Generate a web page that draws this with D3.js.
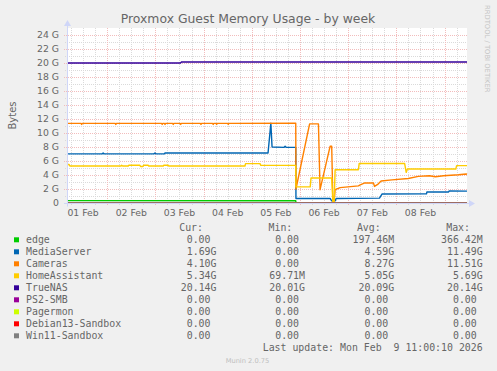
<!DOCTYPE html>
<html>
<head>
<meta charset="utf-8">
<script src="https://cdn.jsdelivr.net/npm/d3@7"></script>
<style>
  body { margin: 0; background: #f0f0f0; }
  svg { display: block; }
  text { font-family: "DejaVu Sans", sans-serif; fill: #666; }
  .mono { font-family: "DejaVu Sans Mono", monospace; white-space: pre; }
</style>
</head>
<body>
<div id="chart"></div>
<script>
// series, in munin draw order
const seriesNames = ["edge", "MediaServer", "Cameras", "HomeAssistant", "TrueNAS",
    "PS2-SMB", "Pagermon", "Debian13-Sandbox", "Win11-Sandbox"];
const seriesColors = ["#00CC00", "#0066B3", "#FF8000", "#FFCC00", "#330099",
    "#990099", "#CCFF00", "#FF0000", "#808080"];

// points: ["day hh:mm" in Feb 2026, GiB]
const edge = [["01 04:00", 0.34], ["05 21:54", 0.33], ["05 22:00", 0], ["09 11:10", 0]];
const mediaServer = [
    ["01 04:00", 7.02], ["01 21:30", 7.02], ["01 22:00", 7.15], ["01 22:30", 7.02],
    ["02 23:18", 7.02], ["02 23:48", 7.15], ["03 00:18", 7.02], ["03 04:30", 7.02],
    ["03 04:48", 7.14], ["05 08:06", 7.14], ["05 09:30", 11.4], ["05 10:06", 8.0],
    ["05 16:06", 7.95], ["05 16:36", 8.1], ["05 17:06", 7.95], ["05 21:54", 7.95],
    ["05 22:00", 0.65], ["06 15:00", 0.65], ["06 15:48", 0.3], ["06 17:30", 0.3],
    ["06 18:00", 0.65], ["07 15:36", 0.7], ["07 16:54", 1.29], ["08 15:00", 1.3],
    ["08 15:12", 1.57], ["09 02:00", 1.57], ["09 02:18", 1.72], ["09 11:10", 1.69]];
const cameras = [
    ["01 04:00", 11.37], ["01 11:00", 11.37], ["01 11:18", 11.22], ["01 11:36", 11.37],
    ["02 04:00", 11.37], ["02 04:18", 11.22], ["02 04:36", 11.37],
    ["03 03:06", 11.37], ["03 03:24", 11.22], ["03 03:42", 11.37],
    ["03 04:30", 11.37], ["03 04:48", 11.22], ["03 05:06", 11.37],
    ["03 08:36", 11.37], ["03 08:54", 11.22], ["03 09:12", 11.37],
    ["03 12:18", 11.37], ["03 12:36", 11.22], ["03 12:54", 11.37],
    ["03 22:24", 11.37], ["03 22:42", 11.22], ["03 23:00", 11.37],
    ["04 04:30", 11.37], ["04 04:48", 11.22], ["04 05:06", 11.37],
    ["04 06:12", 11.37], ["04 06:30", 11.22], ["04 06:48", 11.37],
    ["04 12:00", 11.37], ["04 12:18", 11.22], ["04 12:36", 11.37],
    ["05 21:54", 11.4], ["05 22:00", 2.0], ["06 04:48", 11.3], ["06 09:12", 11.3],
    ["06 10:00", 1.9], ["06 15:00", 8.1], ["06 15:48", 8.1], ["06 16:24", 0.0],
    ["06 17:00", 0.1], ["06 17:30", 1.9], ["06 20:00", 2.2], ["07 05:06", 2.45],
    ["07 06:00", 2.6], ["07 08:00", 2.85], ["07 12:36", 2.85], ["07 13:06", 2.37],
    ["07 14:54", 2.7], ["07 16:24", 3.14], ["07 21:48", 3.3], ["08 05:54", 3.5],
    ["08 10:54", 3.8], ["08 16:24", 3.9], ["08 19:24", 3.75], ["08 23:30", 3.9],
    ["09 06:54", 4.04], ["09 10:48", 4.15], ["09 11:10", 4.10]];
const homeAssistant = [
    ["01 04:00", 5.5], ["01 05:00", 5.5], ["01 05:30", 5.28], ["02 06:54", 5.28],
    ["02 07:12", 5.4], ["02 07:42", 5.28], ["02 10:30", 5.28], ["02 10:48", 5.4],
    ["02 16:18", 5.4], ["02 16:36", 5.22], ["02 17:48", 5.22], ["02 18:06", 5.4],
    ["02 20:24", 5.4], ["02 20:42", 5.28], ["03 03:54", 5.28], ["03 04:12", 5.4],
    ["03 06:24", 5.4], ["03 06:42", 5.28], ["04 20:36", 5.28], ["04 20:54", 5.62],
    ["05 04:06", 5.62], ["05 04:30", 5.38], ["05 21:54", 5.38], ["05 22:00", 2.3],
    ["06 05:06", 2.3], ["06 05:30", 3.57], ["06 15:48", 3.57], ["06 16:24", 0.07],
    ["06 17:00", 0.07], ["06 17:30", 4.76], ["07 05:06", 4.76], ["07 05:30", 5.65],
    ["08 04:06", 5.65], ["08 04:54", 4.37], ["08 05:30", 4.86], ["09 05:36", 4.86],
    ["09 06:00", 5.34], ["09 11:10", 5.34]];
const trueNAS = [["01 04:00", 20.01], ["03 12:36", 20.01], ["03 12:54", 20.14], ["09 11:10", 20.14]];
const ps2Smb = [["01 04:00", 0], ["09 11:10", 0]];
const pagermon = [["01 04:00", 0], ["09 11:10", 0]];
const debianSandbox = [["01 04:00", 0], ["09 11:10", 0]];
const winSandbox = [["01 04:00", 0], ["09 11:10", 0]];

const yTicks = [0, 2, 4, 6, 8, 10, 12, 14, 16, 18, 20, 22, 24];
const timeStart = "01 04:00";
const timeEnd = "09 11:10";

// legend table (as printed by rrdtool)
const legendHeads = ["Cur:", "Min:", "Avg:", "Max:"];
const curValues = ["0.00", "1.69G", "4.10G", "5.34G", "20.14G", "0.00", "0.00", "0.00", "0.00"];
const minValues = ["0.00", "0.00", "0.00", "69.71M", "20.01G", "0.00", "0.00", "0.00", "0.00"];
const avgValues = ["197.46M", "4.59G", "8.27G", "5.05G", "20.09G", "0.00", "0.00", "0.00", "0.00"];
const maxValues = ["366.42M", "11.49G", "11.51G", "5.69G", "20.14G", "0.00", "0.00", "0.00", "0.00"];

const chart = {
    width: 497,
    height: 371,
    plot: { left: 67, top: 28, width: 400, height: 175 },
    parse: d3.timeParse("%Y-%m-%d %H:%M"),
    time: function (s) { return this.parse("2026-02-" + s); },

    draw: function () {
        const p = this.plot;
        const allSeries = [edge, mediaServer, cameras, homeAssistant, trueNAS,
            ps2Smb, pagermon, debianSandbox, winSandbox];

        const x = d3.scaleTime()
            .domain([this.time(timeStart), this.time(timeEnd)])
            .range([p.left, p.left + p.width]);
        const y = d3.scaleLinear()
            .domain([0, 25])
            .range([p.top + p.height, p.top]);
        const px = v => Math.round(v) + 0.5;

        const svg = d3.select("#chart").append("svg")
            .attr("width", this.width)
            .attr("height", this.height)
            .attr("viewBox", [0, 0, this.width, this.height]);

        svg.append("rect").attr("width", this.width).attr("height", this.height).attr("fill", "#F0F0F0");
        svg.append("rect")
            .attr("x", p.left).attr("y", p.top)
            .attr("width", p.width).attr("height", p.height)
            .attr("fill", "#FFFFFF");

        // grid
        const grid = svg.append("g").attr("stroke-width", 1).attr("shape-rendering", "crispEdges");
        const [t0, t1] = x.domain();
        const minorX = d3.timeHour.every(6).range(t0, t1).filter(d => d.getHours() !== 0);
        const majorX = d3.timeDay.range(t0, t1);
        const minorY = d3.range(1, 25, 2);

        grid.selectAll(".vmin").data(minorX).join("line")
            .attr("x1", d => px(x(d))).attr("x2", d => px(x(d)))
            .attr("y1", p.top).attr("y2", p.top + p.height + 2)
            .attr("stroke", "#DADADA").attr("stroke-dasharray", "1,1");
        grid.selectAll(".hmin").data(minorY).join("line")
            .attr("x1", p.left - 2).attr("x2", p.left + p.width)
            .attr("y1", d => px(y(d))).attr("y2", d => px(y(d)))
            .attr("stroke", "#DADADA").attr("stroke-dasharray", "1,1");
        grid.selectAll(".vmaj").data(majorX).join("line")
            .attr("x1", d => px(x(d))).attr("x2", d => px(x(d)))
            .attr("y1", p.top).attr("y2", p.top + p.height + 3)
            .attr("stroke", "#F2BCBC").attr("stroke-dasharray", "1,1");
        grid.selectAll(".hmaj").data(yTicks.filter(d => d > 0)).join("line")
            .attr("x1", p.left - 3).attr("x2", p.left + p.width)
            .attr("y1", d => px(y(d))).attr("y2", d => px(y(d)))
            .attr("stroke", "#F2BCBC").attr("stroke-dasharray", "1,1");

        // series lines
        const line = d3.line()
            .x(d => x(this.time(d[0])))
            .y(d => y(d[1]));
        svg.append("g")
            .selectAll("path")
            .data(allSeries)
            .join("path")
            .attr("fill", "none")
            .attr("stroke", (d, i) => seriesColors[i])
            .attr("stroke-width", 1.4)
            .attr("stroke-linejoin", "round")
            .attr("d", line);

        // axes with arrows
        const axisColor = "#CFD6F8";
        const y0 = px(y(0));
        svg.append("line")
            .attr("x1", p.left - 3).attr("x2", p.left + p.width + 2)
            .attr("y1", y0).attr("y2", y0)
            .attr("stroke", axisColor);
        svg.append("line")
            .attr("x1", px(p.left)).attr("x2", px(p.left))
            .attr("y1", y0 + 3).attr("y2", p.top - 3)
            .attr("stroke", axisColor);
        svg.append("path")
            .attr("d", `M${p.left + p.width + 2},${y0 - 3.5}L${p.left + p.width + 8},${y0}L${p.left + p.width + 2},${y0 + 3.5}Z`)
            .attr("fill", axisColor);
        svg.append("path")
            .attr("d", `M${px(p.left) - 3.5},${p.top - 2}L${px(p.left)},${p.top - 8}L${px(p.left) + 3.5},${p.top - 2}Z`)
            .attr("fill", axisColor);

        // tick labels
        svg.append("g").selectAll("text")
            .data(yTicks).join("text")
            .attr("x", p.left - 8).attr("y", d => y(d) + 3.4)
            .attr("text-anchor", "end")
            .style("font-size", "9.3px")
            .text(d => d === 0 ? "0" : d + " G");

        const noon = majorX.concat([d3.timeDay.offset(majorX[majorX.length - 1], 1)])
            .map(d => d3.timeHour.offset(d3.timeDay.offset(d, -1), 12))
            .filter(d => d > t0 && d < t1);
        svg.append("g").selectAll("text")
            .data(noon).join("text")
            .attr("x", d => x(d)).attr("y", 215.5)
            .attr("text-anchor", "middle")
            .style("font-size", "9.3px")
            .text(d3.timeFormat("%d %b"));

        svg.append("text")
            .attr("x", 248).attr("y", 23)
            .attr("text-anchor", "middle")
            .style("font-size", "12.4px")
            .text("Proxmox Guest Memory Usage - by week");

        svg.append("text")
            .attr("transform", `translate(16,${p.top + p.height / 2}) rotate(-90)`)
            .attr("text-anchor", "middle")
            .style("font-size", "10px")
            .text("Bytes");

        svg.append("text")
            .attr("transform", "translate(485,5) rotate(90)")
            .attr("text-anchor", "start")
            .style("font-size", "6.8px")
            .style("fill", "#C4C4C4")
            .text("RRDTOOL / TOBI OETIKER");

        // legend
        const legend = svg.append("g").attr("class", "legend");
        const headRight = [203, 292.3, 380.7, 470];
        const colRight = [216.5, 305, 394.2, 482.7];
        const charW = 5.97;
        legend.selectAll(".head").data(legendHeads).join("text")
            .attr("class", "mono")
            .attr("x", (d, i) => headRight[i]).attr("y", 231)
            .attr("text-anchor", "end")
            .style("font-size", "9.9px")
            .text(d => d);

        const rows = legend.selectAll(".row").data(seriesNames).join("g")
            .attr("transform", (d, i) => `translate(0,${242.8 + i * 12})`);
        rows.append("rect")
            .attr("x", 14).attr("y", -5.5).attr("width", 5).attr("height", 5)
            .attr("fill", (d, i) => seriesColors[i]);
        rows.append("text")
            .attr("class", "mono").attr("x", 26)
            .style("font-size", "9.9px")
            .text(d => d);
        const columns = [curValues, minValues, avgValues, maxValues];
        columns.forEach((vals, c) => {
            rows.append("text")
                .attr("class", "mono")
                .attr("x", (d, i) => colRight[c] - (/[A-Za-z]$/.test(vals[i]) ? 0 : charW))
                .attr("text-anchor", "end")
                .style("font-size", "9.9px")
                .text((d, i) => vals[i]);
        });

        svg.append("text")
            .attr("class", "mono")
            .attr("x", 482.7).attr("y", 350.7)
            .attr("text-anchor", "end")
            .style("font-size", "9.9px")
            .text("Last update: Mon Feb  9 11:00:10 2026");

        svg.append("text")
            .attr("x", 247.5).attr("y", 362.5)
            .attr("text-anchor", "middle")
            .style("font-size", "6.7px")
            .style("fill", "#BEBEBE")
            .text("Munin 2.0.75");
    }
};

chart.draw();
</script>
</body>
</html>
